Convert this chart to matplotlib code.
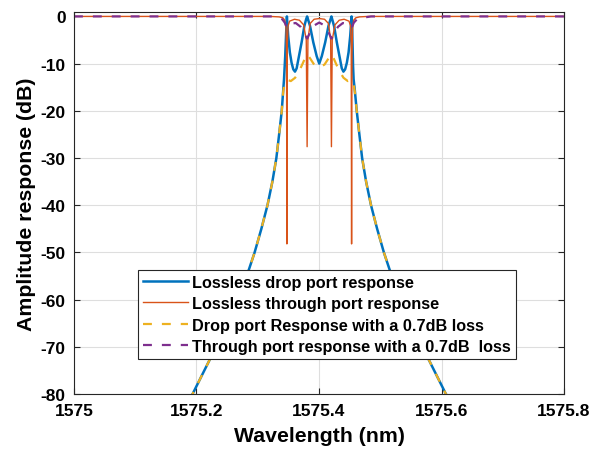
import numpy as np
import matplotlib
matplotlib.use("Agg")
from matplotlib import pyplot as plt

# wavelengths are stored as offsets (nm) from lam0
lam0 = 1575.0

# filter skirts, shared by both drop port curves
skirt_l_lam = [0.1554, 0.1936, 0.2244, 0.2484, 0.2674, 0.2859, 0.2949, 0.3059,
               0.3159, 0.3239, 0.3304, 0.3349, 0.3392]
skirt_l_db = [-88, -80, -72, -66, -60, -53.5, -50, -45,
              -40, -35, -30, -25, -20]
skirt_r_lam = [0.4616, 0.4659, 0.4704, 0.4769, 0.4849, 0.4949, 0.5059, 0.5149,
               0.5334, 0.5524, 0.5764, 0.6072, 0.6454]
skirt_r_db = [-20, -25, -30, -35, -40, -45, -50, -53.5,
              -60, -66, -72, -80, -88]

# lossless drop port, passband
drop_lam = [0.3417, 0.3429, 0.3448, 0.3462, 0.3470, 0.3476, 0.3497, 0.3524,
            0.3552, 0.3580, 0.3608, 0.3635, 0.3663, 0.3716, 0.3760, 0.3790,
            0.3806, 0.3853, 0.3907, 0.3962, 0.4004, 0.4046, 0.4101, 0.4155,
            0.4188, 0.4203, 0.4247, 0.4291, 0.4344, 0.4372, 0.4399, 0.4427,
            0.4455, 0.4483, 0.4510, 0.4532, 0.4540, 0.4548, 0.4556, 0.4565,
            0.4583]
drop_db = [-15.4, -13.3, -8.5, -4.0, -1.5, 0.0, -4.1, -7.6,
           -9.8, -11.2, -11.7, -11.0, -9.1, -5.5, -2.1, -0.6,
           0.0, -2.0, -5.5, -8.4, -10.0, -8.4, -5.5, -2.0,
           -0.6, 0.0, -2.1, -5.5, -9.1, -11.0, -11.7, -11.2,
           -9.8, -7.6, -4.1, 0.0, -2.0, -6.0, -10.5, -13.3,
           -15.4]

# drop port with 0.7 dB loss, passband
drop_loss_lam = [0.3417, 0.3440, 0.3476, 0.3540, 0.3610, 0.3680, 0.3740, 0.3790,
                 0.3806, 0.3840, 0.3920, 0.4004, 0.4090, 0.4170, 0.4203, 0.4220,
                 0.4270, 0.4330, 0.4400, 0.4470, 0.4532, 0.4560, 0.4583]
drop_loss_db = [-15.8, -14.0, -13.4, -13.7, -13.0, -11.5, -9.8, -8.3,
                -8.0, -8.6, -10.2, -10.8, -10.2, -8.6, -8.0, -8.3,
                -9.8, -11.5, -13.0, -13.7, -13.4, -14.0, -15.8]

# lossless through port
thru_lam = [0.0, 0.320, 0.335, 0.341, 0.344, 0.3462, 0.3470, 0.3476,
            0.3482, 0.3495, 0.3520, 0.3600, 0.3680, 0.3750, 0.3792, 0.3806,
            0.3819, 0.3855, 0.3920, 0.4004, 0.4090, 0.4155, 0.4190, 0.4203,
            0.4216, 0.4260, 0.4330, 0.4410, 0.4490, 0.4515, 0.4526, 0.4532,
            0.4538, 0.4548, 0.4566, 0.4600, 0.4660, 0.4800, 0.8]
thru_db = [0.0, 0.0, -0.1, -0.3, -0.8, -2.5, -8.0, -48.2,
           -6.0, -2.0, -1.0, -0.6, -0.8, -1.8, -5.0, -27.6,
           -5.0, -1.5, -0.6, -0.45, -0.6, -1.5, -5.0, -27.6,
           -5.0, -1.8, -0.8, -0.6, -1.0, -2.0, -6.0, -48.2,
           -8.0, -2.5, -0.8, -0.3, -0.1, 0.0, 0.0]

# through port with 0.7 dB loss
thru_loss_lam = [0.0, 0.325, 0.333, 0.340, 0.344, 0.3476, 0.351, 0.356,
                 0.362, 0.370, 0.376, 0.3806, 0.385, 0.391, 0.4004, 0.410,
                 0.416, 0.4203, 0.425, 0.431, 0.439, 0.445, 0.449, 0.4532,
                 0.457, 0.462, 0.475, 0.485, 0.8]
thru_loss_db = [0.0, 0.0, -0.2, -0.6, -1.3, -2.4, -2.0, -1.5,
                -1.4, -2.2, -3.5, -4.7, -3.5, -2.0, -1.3, -2.0,
                -3.5, -4.7, -3.5, -2.2, -1.4, -1.5, -2.0, -2.4,
                -1.3, -0.6, -0.2, 0.0, 0.0]

xticks = [1575, 1575.2, 1575.4, 1575.6, 1575.8]
xtick_labels = ["1575", "1575.2", "1575.4", "1575.6", "1575.8"]
yticks = [0, -10, -20, -30, -40, -50, -60, -70, -80]

labels = ["Lossless drop port response",
          "Lossless through port response",
          "Drop port Response with a 0.7dB loss",
          "Through port response with a 0.7dB  loss"]

plt.rcParams["font.family"] = ["Liberation Sans", "DejaVu Sans"]
plt.rcParams["font.weight"] = "bold"
plt.rcParams["axes.unicode_minus"] = False

drop_x = lam0 + np.array(skirt_l_lam + drop_lam + skirt_r_lam)
drop_y = np.array(skirt_l_db + drop_db + skirt_r_db)
loss_x = lam0 + np.array(skirt_l_lam + drop_loss_lam + skirt_r_lam)
loss_y = np.array(skirt_l_db + drop_loss_db + skirt_r_db)

fig = plt.figure(figsize=(6.02, 4.52), dpi=100)
ax = fig.add_axes([0.1229, 0.1261, 0.814, 0.8458])

ax.plot(drop_x, drop_y, color="#0072BD", lw=1.8, label=labels[0])
ax.plot(lam0 + np.array(thru_lam), thru_db, color="#D95319", lw=1.0, label=labels[1])
ax.plot(loss_x, loss_y, color="#EDB120", lw=1.6, dashes=(4, 4.5), label=labels[2])
ax.plot(lam0 + np.array(thru_loss_lam), thru_loss_db, color="#7E2F8E", lw=1.6,
        dashes=(4, 4.5), label=labels[3])

ax.set_xlim(1575, 1575.8)
ax.set_ylim(-80, 1)
ax.set_xticks(xticks)
ax.set_xticklabels(xtick_labels)
ax.set_yticks(yticks)
ax.grid(True, color="#dedede", lw=0.8)
ax.set_axisbelow(True)
ax.tick_params(direction="in", length=4, width=0.8, top=True, right=True,
               labelsize=12.5, colors="#262626", labelcolor="black")
ax.tick_params(axis="x", pad=6.5)
ax.tick_params(axis="y", pad=6)
for s in ax.spines.values():
    s.set_color("#262626")
    s.set_linewidth(0.8)

ax.set_xlabel("Wavelength (nm)", fontsize=15.3, fontweight="bold", labelpad=6)
ax.set_ylabel("Amplitude response (dB)", fontsize=15.3, fontweight="bold", labelpad=3)

leg = ax.legend(loc="lower left", bbox_to_anchor=(0.1306, 0.0916), fontsize=11.7,
                frameon=True, fancybox=False, framealpha=1, edgecolor="#262626",
                handlelength=2.8, handletextpad=0.25, labelspacing=0.4,
                borderpad=0.3, borderaxespad=0)
leg.get_frame().set_linewidth(0.8)

fig.savefig("out.png", dpi=100)
